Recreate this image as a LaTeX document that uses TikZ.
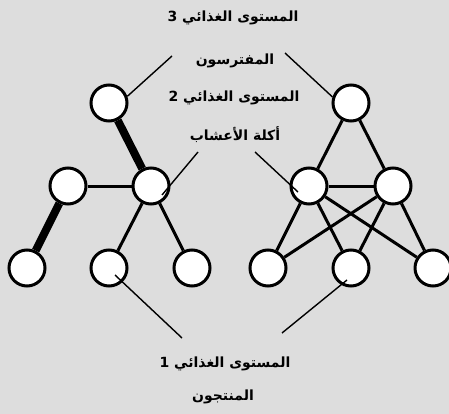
\documentclass[tikz,border=0pt]{standalone}
\usepackage{fontspec}
\usepackage{xcolor}
\usetikzlibrary{positioning}
\TeXXeTstate=1
\newfontfamily\arabicfont[Script=Arabic]{DejaVu Sans}
\definecolor{bggray}{RGB}{221,221,221}

\begin{document}
\begin{tikzpicture}[x=1pt,y=-1pt,
    org/.style={circle,draw,fill=white,line width=3pt,minimum size=36pt,inner sep=0pt},
    link/.style={line width=3pt},
    meal/.style={line width=8pt},
    pointer/.style={line width=1.4pt},
    label/.style={font=\arabicfont\bfseries\fontsize{14}{16}\selectfont,inner sep=1pt}]
      \fill[bggray] (0,0) rectangle (449,414);
      \useasboundingbox (0,0) rectangle (449,414);

      % left web
      \node[org] (lt) at (109,103) {};
      \node[org] (lm1) at (68,186) {};
      \node[org] (lm2) at (151,186) {};
      \node[org] (lb1) at (27,268) {};
      \node[org] (lb2) at (109,268) {};
      \node[org] (lb3) at (192,268) {};

      % right web
      \node[org] (rt) at (351,103) {};
      \node[org] (rm1) at (309,186) {};
      \node[org] (rm2) at (393,186) {};
      \node[org] (rb1) at (268,268) {};
      \node[org] (rb2) at (351,268) {};
      \node[org] (rb3) at (433,268) {};

      % labels
      \node[label] (t3) at (233,18) {\beginR المستوى الغذائي 3\endR};
      \node[label] (t3b) at (235,61) {\beginR المفترسون\endR};
      \node[label] (t2) at (234,98) {\beginR المستوى الغذائي 2\endR};
      \node[label] (t2b) at (235,135) {\beginR أكلة الأعشاب\endR};
      \node[label] (t1) at (225,364) {\beginR المستوى الغذائي 1\endR};
      \node[label] (t1b) at (223,397) {\beginR المنتجون\endR};

      \coordinate (c3l) at (172,56);
      \coordinate (c3r) at (285,53);
      \coordinate (c2l) at (198,152);
      \coordinate (c2r) at (255,152);
      \coordinate (c1l) at (182,338);
      \coordinate (c1r) at (282,333);

      \path[meal] (lt) edge (lm2)
                  (lm1) edge (lb1);
      \path[link] (lm1) edge (lm2)
                  (lm2) edge (lb2)
                  (lm2) edge (lb3)
                  (rt) edge (rm1)
                  (rt) edge (rm2)
                  (rm1) edge (rm2)
                  (rm1) edge (rb1)
                  (rm1) edge (rb2)
                  (rm1) edge (rb3)
                  (rm2) edge (rb1)
                  (rm2) edge (rb2)
                  (rm2) edge (rb3);

      \path[pointer] (c3l) edge (lt.20)
                     (c3r) edge (rt.162)
                     (c2l) edge ([shift={(11,9)}]lm2.center)
                     (c2r) edge ([shift={(-11,6)}]rm1.center)
                     (c1l) edge ([shift={(6,7)}]lb2.center)
                     (c1r) edge ([shift={(-4,12)}]rb2.center);
    \end{tikzpicture}
\end{document}
